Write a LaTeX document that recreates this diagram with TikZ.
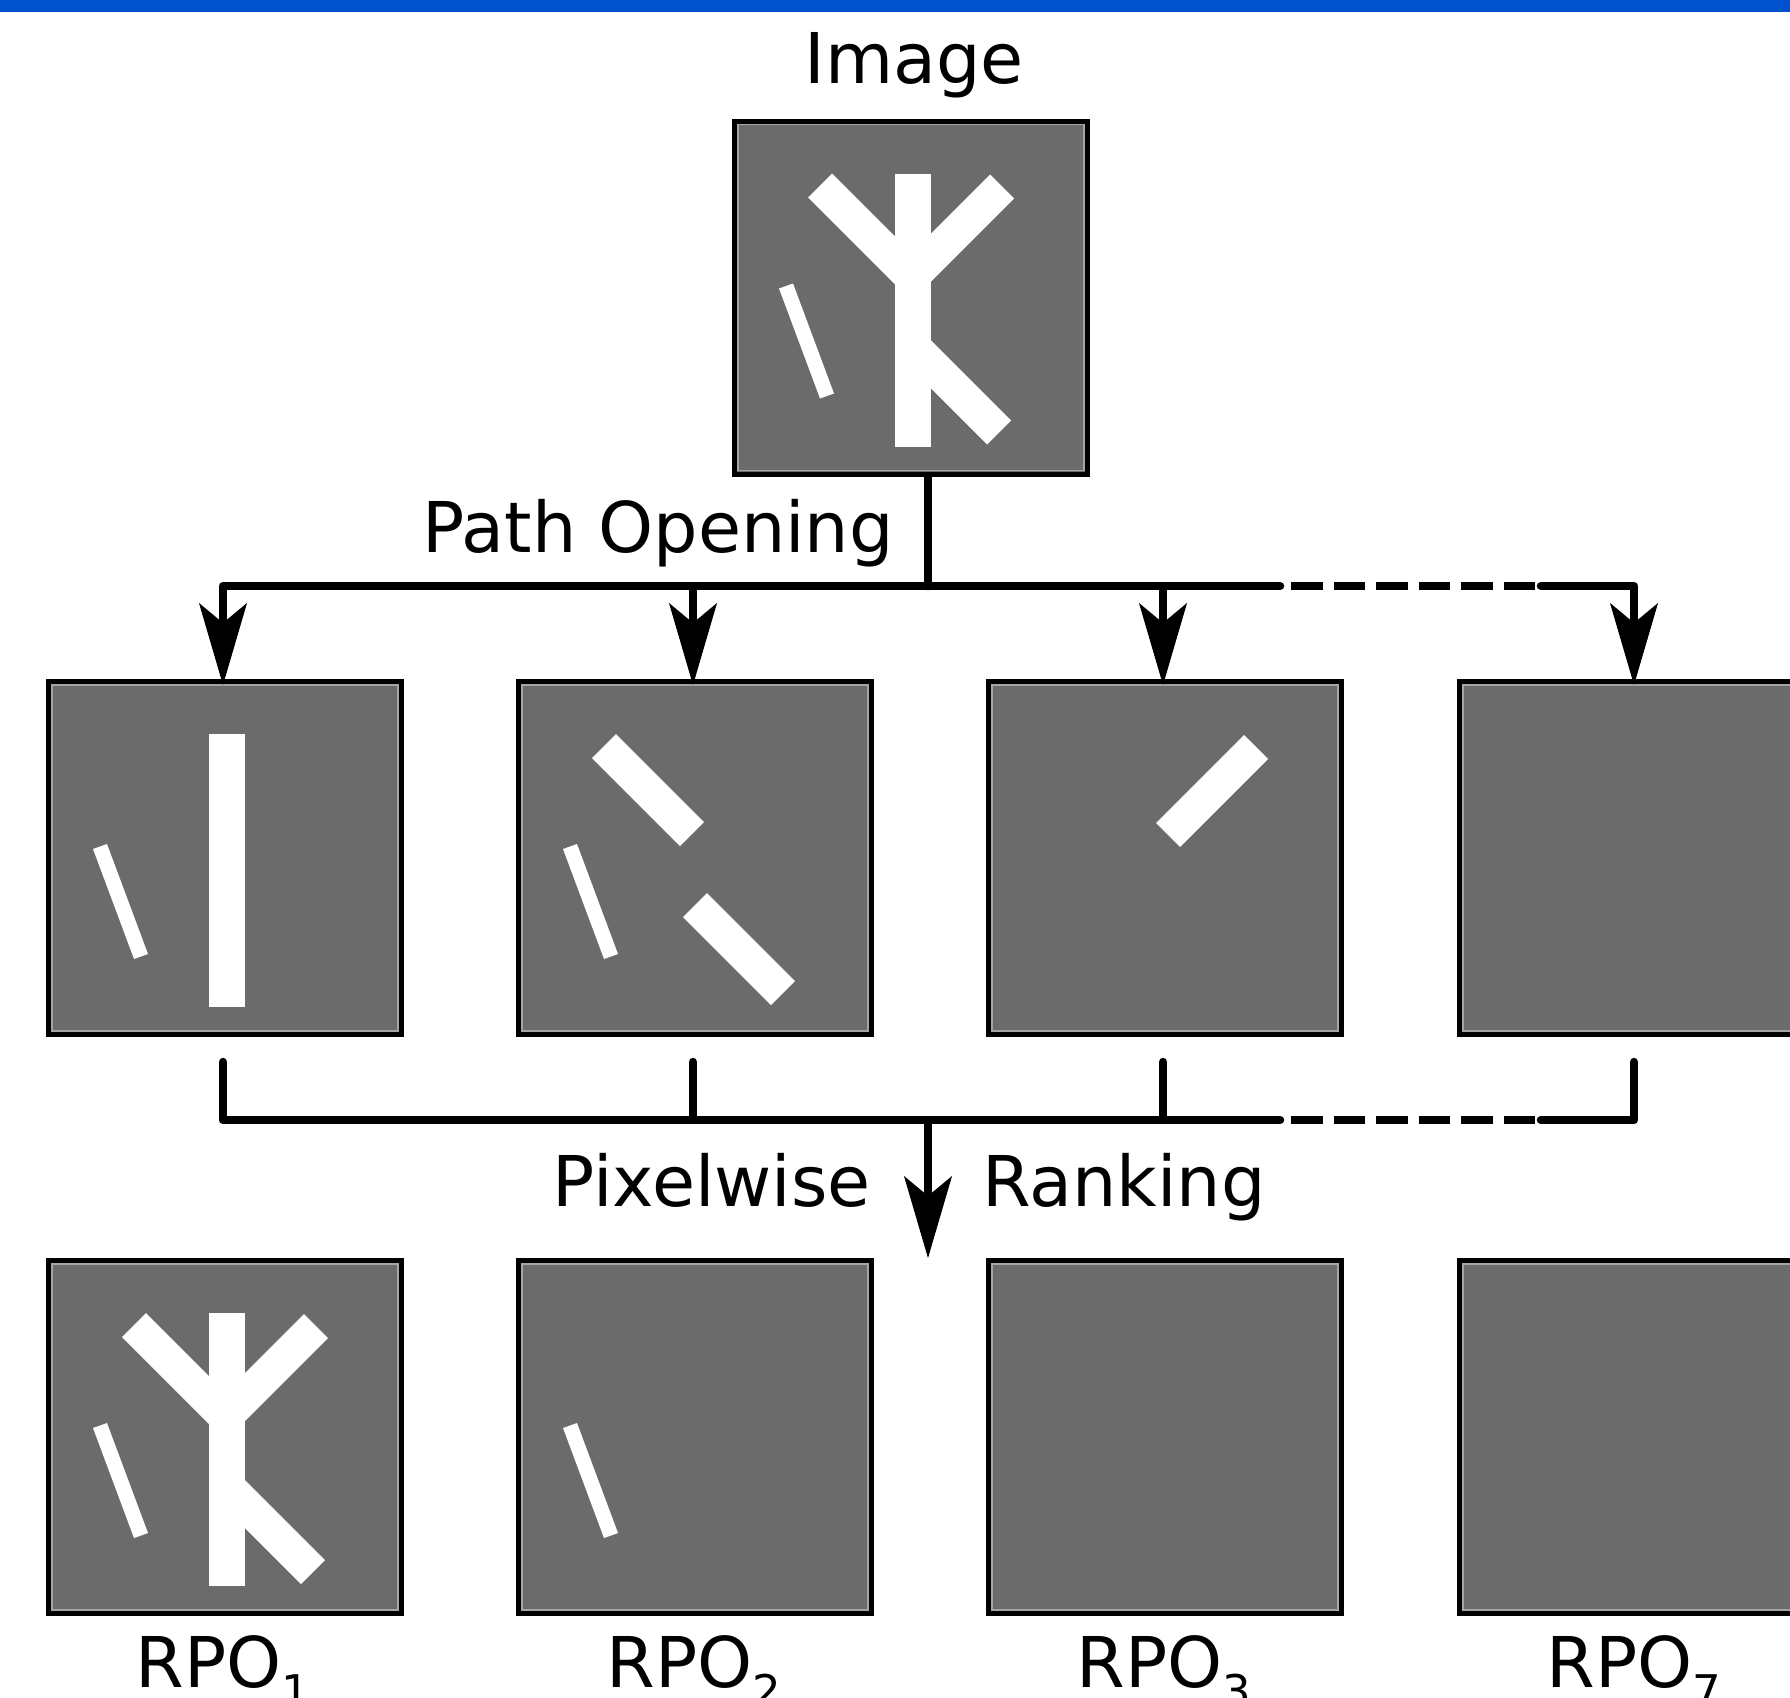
\documentclass[tikz,border=0pt]{standalone}
\usepackage{fontspec}
\setmainfont{DejaVu Sans}
\usetikzlibrary{arrows.meta}
\definecolor{topblue}{RGB}{0,82,204}
\definecolor{imggray}{RGB}{107,107,107}
\definecolor{rimgray}{RGB}{165,165,165}
\newcommand{\shpStem}{\fill[white] (163,55) rectangle (199,328);}
\newcommand{\shpUL}{\fill[white] (76,79) -- (100,55) -- (188,143) -- (164,167) -- cycle;}
\newcommand{\shpUR}{\fill[white] (258,56) -- (282,80) -- (194,168) -- (170,144) -- cycle;}
\newcommand{\shpLR}{\fill[white] (167,238) -- (191,214) -- (279,302) -- (255,326) -- cycle;}
\newcommand{\shpThin}{\fill[white] (47,170) -- (61,165) -- (102,275) -- (88,280) -- cycle;}
\newcommand{\rposub}[1]{\raisebox{-20pt}{\fontsize{45}{45}\selectfont #1}}
\tikzset{
  imgbox/.style={rectangle, draw=black, line width=5pt, fill=imggray,
    minimum width=353pt, minimum height=353pt, inner sep=0pt},
  rim/.style={draw=rimgray, line width=1.5pt},
  lbl/.style={inner sep=0pt, font=\fontsize{70}{84}\selectfont},
  conn/.style={line width=8.5pt, line cap=round, line join=round},
  dashconn/.style={line width=8.5pt, line cap=butt, dash pattern=on 31.5pt off 11pt, dash phase=31.5pt},
  bigarrow/.style={-{Stealth[length=82pt,width=48pt,inset=20pt,line width=1pt]}},
}
\begin{document}
\begin{tikzpicture}[x=1pt,y=-1pt]
\useasboundingbox (0,0) rectangle (1790,1697);
\clip (0,0) rectangle (1790,1697);
\fill[topblue] (0,0) rectangle (1790,12);

% boxes
\node[imgbox] (img) at (911,297.5) {};
\node[imgbox] (p1) at (225,858) {};
\node[imgbox] (p2) at (695,858) {};
\node[imgbox] (p3) at (1165,858) {};
\node[imgbox] (p4) at (1636,858) {};
\node[imgbox] (r1) at (225,1437) {};
\node[imgbox] (r2) at (695,1437) {};
\node[imgbox] (r3) at (1165,1437) {};
\node[imgbox] (r4) at (1636,1437) {};

\foreach \n in {img,p1,p2,p3,p4,r1,r2,r3,r4}
  \draw[rim] ([shift={(6,6)}]\n.north west) rectangle ([shift={(-6,-6)}]\n.south east);

% contents
\begin{scope}[shift={(img.north west)}]
  \shpStem \shpUL \shpUR \shpLR \shpThin
\end{scope}
\begin{scope}[shift={(p1.north west)}]
  \shpStem \shpThin
\end{scope}
\begin{scope}[shift={(p2.north west)}]
  \shpUL \shpLR \shpThin
\end{scope}
\begin{scope}[shift={(p3.north west)}]
  \shpUR
\end{scope}
\begin{scope}[shift={(r1.north west)}]
  \shpStem \shpUL \shpUR \shpLR \shpThin
\end{scope}
\begin{scope}[shift={(r2.north west)}]
  \shpThin
\end{scope}

% labels
\node[lbl, anchor=base] (limg) at (914,83) {Image};
\node[lbl, anchor=base east] (lpo) at (894,552) {Path Opening};
\node[lbl, anchor=base east] (lpx) at (871,1206) {Pixelwise};
\node[lbl, anchor=base west] (lrk) at (982,1206) {Ranking};
\node[lbl, anchor=base] (lr1) at (223,1687) {RPO\rposub{1}};
\node[lbl, anchor=base] (lr2) at (694,1687) {RPO\rposub{2}};
\node[lbl, anchor=base] (lr3) at (1164,1687) {RPO\rposub{3}};
\node[lbl, anchor=base] (lr4) at (1634,1687) {RPO\rposub{7}};

% top distribution
\coordinate (split) at (928,586);
\coordinate (dA) at (1280,586);
\coordinate (dB) at (1541,586);
\draw[conn] ([xshift=17pt]img.south) -- (split);
\draw[conn,bigarrow] (split) -| ([xshift=-2pt,yshift=-6pt]p1.north);
\draw[conn,bigarrow] (split) -| ([xshift=-2pt,yshift=-6pt]p2.north);
\draw[conn,bigarrow] (split) -| ([xshift=-2pt,yshift=-6pt]p3.north);
\draw[conn] (split) -- (dA);
\draw[dashconn] (dA) -- (dB);
\draw[conn,bigarrow] (dB) -| ([xshift=-2pt,yshift=-6pt]p4.north);

% bottom collection
\coordinate (jb) at (928,1120);
\coordinate (eA) at (1280,1120);
\coordinate (eB) at (1541,1120);
\coordinate (tipc) at (928,1258);
\draw[conn] ([xshift=-2pt,yshift=-25pt]p1.south) |- (jb);
\draw[conn] ([xshift=-2pt,yshift=-25pt]p2.south) |- (jb);
\draw[conn] ([xshift=-2pt,yshift=-25pt]p3.south) |- (jb);
\draw[conn] (jb) -- (eA);
\draw[dashconn] (eA) -- (eB);
\draw[conn] ([xshift=-2pt,yshift=-25pt]p4.south) |- (eB);
\draw[conn,bigarrow] (jb) -- (tipc);
\end{tikzpicture}
\end{document}
